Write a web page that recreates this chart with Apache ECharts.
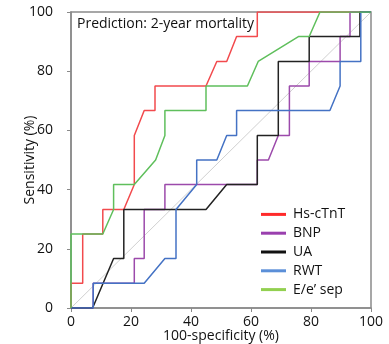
<!DOCTYPE html>
<html><head><meta charset="utf-8">
<script src="https://cdn.jsdelivr.net/npm/echarts@6/dist/echarts.min.js"></script>
<style>html,body{margin:0;padding:0;background:#fff}#c{width:389px;height:344px}</style>
</head><body><div id="c"></div>
<script>
const seriesNames = ['Hs-cTnT', 'BNP', 'UA', 'RWT', "E/e\u2019 sep"];
const xTicks = [0, 20, 40, 60, 80, 100];
const yTicks = [0, 20, 40, 60, 80, 100];
const titleText = 'Prediction: 2-year mortality';

const hsX = [0, 0, 3.9, 3.9, 10.6, 10.6, 17.6, 21.1, 21.1, 24.4, 28, 28, 45, 48.6, 51.9, 55.2, 62.1, 62.1, 100];
const hsY = [0, 8.33, 8.33, 25, 25, 33.3, 33.3, 41.7, 58.3, 66.7, 66.7, 75, 75, 83.3, 83.3, 91.7, 91.7, 100, 100];

const bnpX = [0, 7.4, 7.4, 21.1, 21.1, 24.4, 24.4, 31.3, 31.3, 62.1, 62.1, 65.8, 69.1, 72.8, 72.8, 79.4, 79.4, 89.7, 89.7, 93, 93, 100];
const bnpY = [0, 0, 8.33, 8.33, 16.7, 16.7, 33.3, 33.3, 41.7, 41.7, 50, 50, 58.3, 58.3, 75, 75, 83.3, 83.3, 91.7, 91.7, 100, 100];

const uaX = [0, 7.2, 14.2, 17.6, 17.6, 45, 51.9, 62.1, 62.1, 69.1, 69.1, 79.4, 79.4, 96.3, 96.3, 100];
const uaY = [0, 0, 16.7, 16.7, 33.3, 33.3, 41.7, 41.7, 58.3, 58.3, 83.3, 83.3, 91.7, 91.7, 100, 100];

const rwtX = [0, 7.4, 7.4, 24.4, 31.3, 35, 35, 41.9, 41.9, 48.6, 51.9, 55.2, 55.2, 86.3, 89.7, 89.7, 96.6, 96.6, 100];
const rwtY = [0, 0, 8.33, 8.33, 16.7, 16.7, 33.3, 41.7, 50, 50, 58.3, 58.3, 66.7, 66.7, 75, 83.3, 83.3, 100, 100];

const eeX = [0, 0, 10.6, 14.2, 14.2, 21.1, 28.2, 31.3, 31.3, 45, 45, 58.8, 62.4, 75.8, 79.4, 83, 100];
const eeY = [0, 25, 25, 33.3, 41.7, 41.7, 50, 58.3, 66.7, 66.7, 75, 75, 83.3, 91.7, 91.7, 100, 100];

const refX = [0, 100];
const refY = [0, 100];

const colors = ['#f24a4d', '#9c4aab', '#222222', '#4472c4', '#5fbf5c'];
const legendColors = ['#ff2a2a', '#9a3fae', '#111111', '#5b8fd8', '#92d050'];

function pairs(xs, ys) { return xs.map((x, i) => [x, ys[i]]); }
const allX = [hsX, bnpX, uaX, rwtX, eeX];
const allY = [hsY, bnpY, uaY, rwtY, eeY];

const font = "'Open Sans', 'Noto Sans', sans-serif";
const chart = echarts.init(document.getElementById('c'));
const series = seriesNames.map((n, i) => ({
  name: n, type: 'line', symbol: 'none', silent: true, animation: false,
  data: pairs(allX[i], allY[i]),
  lineStyle: { color: colors[i], width: 1.5 },
  itemStyle: { color: legendColors[i] },
  z: 3
}));
series.unshift({
  name: 'ref', type: 'line', symbol: 'none', silent: true, animation: false,
  data: pairs(refX, refY), lineStyle: { color: '#d0d0d0', width: 1 }, z: 2
});

chart.setOption({
  animation: false,
  textStyle: { fontFamily: font },
  grid: { left: 71, right: 18, top: 12, bottom: 36, show: true, borderColor: '#8a8a8a', borderWidth: 1.5,
          containLabel: false, outerBoundsMode: 'none' },
  title: {
    text: titleText, left: 72, top: 12,
    textStyle: { fontFamily: font, fontSize: 14, fontWeight: 'normal', color: '#111' }
  },
  legend: {
    data: seriesNames, orient: 'vertical', left: 261, top: 205, padding: 0,
    icon: 'rect', itemWidth: 25, itemHeight: 3, itemGap: 0,
    textStyle: { fontFamily: font, fontSize: 14, color: '#111', lineHeight: 18.8, padding: [0, 0, 0, 2] }
  },
  xAxis: {
    type: 'value', min: xTicks[0], max: xTicks[xTicks.length - 1], interval: 20,
    name: '100-specificity (%)', nameLocation: 'middle', nameGap: 21, nameMoveOverlap: false,
    nameTextStyle: { fontFamily: font, fontSize: 14, color: '#111' },
    axisLine: { show: true, lineStyle: { color: '#8a8a8a', width: 1.5 } },
    axisTick: { show: true, length: 4, lineStyle: { color: '#8a8a8a' } },
    axisLabel: { fontFamily: font, fontSize: 14, color: '#111', margin: 7 },
    splitLine: { show: false }
  },
  yAxis: {
    type: 'value', min: yTicks[0], max: yTicks[yTicks.length - 1], interval: 20,
    name: 'Sensitivity (%)', nameLocation: 'middle', nameGap: 34, nameMoveOverlap: false,
    nameTextStyle: { fontFamily: font, fontSize: 14, color: '#111' },
    axisLine: { show: true, lineStyle: { color: '#8a8a8a', width: 1.5 } },
    axisTick: { show: true, length: 4, lineStyle: { color: '#8a8a8a' } },
    axisLabel: { fontFamily: font, fontSize: 14, color: '#111', margin: 18 },
    splitLine: { show: false }
  },
  series: series
});
</script>
</body></html>
